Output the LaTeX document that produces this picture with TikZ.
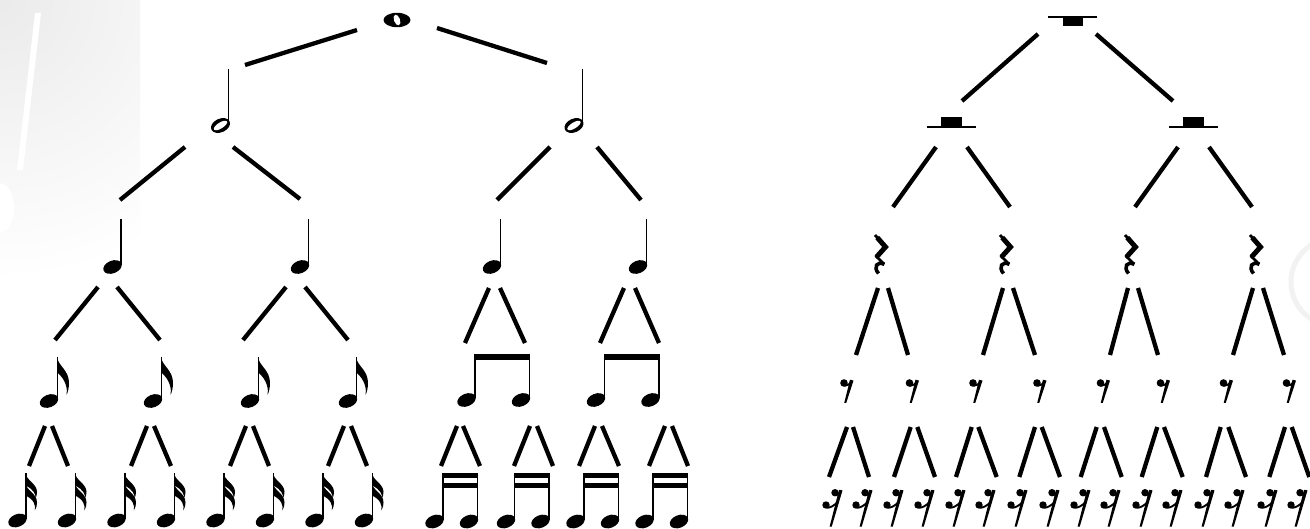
\documentclass[tikz,border=0pt]{standalone}
\tikzset{
  conn/.style={line width=4.3pt},
  stemln/.style={line width=1.35pt},
  ledger/.style={line width=1.6pt},
  hookln/.style={line width=1.9pt},
}
\newcommand\NHead[2]{\fill[shift={(#1,#2)},rotate=22] (0,0) ellipse [x radius=9.6, y radius=6.3];}
\tikzset{
  pics/wholenote/.style={code={
     \fill (0,0) ellipse [x radius=13.5, y radius=7.2];
     \fill[white,rotate=-70] (0,0) ellipse [x radius=5.6, y radius=3.0];}},
  pics/halfnote/.style={code={
     \fill[rotate=24] (0,0) ellipse [x radius=10, y radius=6.8];
     \fill[white,rotate=32] (0,0) ellipse [x radius=7.6, y radius=3.0];
     \draw[stemln] (8.2,-2) -- (8.2,-56);}},
  pics/quarternote/.style={code={
     \NHead{0}{0}
     \draw[stemln] (8.4,-2) -- (8.4,-48);}},
  pics/eighthnote/.style={code={
     \NHead{0}{0}
     \draw[stemln] (8.6,-2) -- (8.6,-44);
     \fill (8,-44) .. controls (9,-35) and (20.5,-31) .. (20,-17) .. controls (19.8,-13) and (19,-9) .. (17.5,-6) .. controls (18.5,-11) and (18,-20) .. (8,-29) -- cycle;}},
  pics/sixteenthnote/.style={code={
     \NHead{0}{0}
     \draw[stemln] (8.6,-2) -- (8.6,-47.5);
     \fill (8,-47.5) .. controls (9,-40) and (19,-37) .. (19.5,-29) .. controls (19.6,-26) and (19,-24) .. (17.8,-22) .. controls (18.5,-26) and (16.5,-31) .. (8,-35) -- cycle;
     \fill (8,-37) .. controls (9,-30) and (19.5,-27) .. (19.5,-18) .. controls (19.5,-15) and (19,-13) .. (17.3,-10) .. controls (18.5,-15) and (16.5,-21) .. (8,-25) -- cycle;}},
  pics/beameighths/.style={code={
     \NHead{0}{0}\NHead{54.5}{0}
     \draw[stemln] (8.4,-2) -- (8.4,-44) (62.9,-2) -- (62.9,-44);
     \fill (7.7,-46) rectangle (63.6,-40);}},
  pics/beamsixteenths/.style={code={
     \NHead{0}{0}\NHead{34.5}{0}
     \draw[stemln] (8.4,-2) -- (8.4,-46) (42.9,-2) -- (42.9,-46);
     \fill (7.7,-48.5) rectangle (43.6,-43.5);
     \fill (7.7,-38.5) rectangle (43.6,-33.5);}},
  pics/wholerest/.style={code={
     \draw[ledger] (-24.5,0) -- (24.5,0);
     \fill (-10,0) rectangle (10,9.5);}},
  pics/halfrest/.style={code={
     \draw[ledger] (-24.5,0) -- (24.5,0);
     \fill (-10.5,-10) rectangle (10.5,0);}},
  pics/quarterrest/.style={code={
     \draw[line width=2.8pt] (-5,-19) -- (-1.5,-15);
     \draw[line width=5pt, line join=miter] (-2.8,-16.5) -- (5.5,-7) -- (-3.5,3) ;
     \draw[line width=2.6pt] (-4.5,1.8) -- (4.2,10);
     \draw[line width=3.6pt] (4.4,10.4) .. controls (-3,6.5) and (-7,13) .. (-1.5,19.5);}},
  pics/eighthrest/.style={code={
     \fill (0,0) circle [radius=3.8];
     \draw[hookln] (0.5,2.8) .. controls (3.5,3.2) and (6,1) .. (7.8,-2.5);
     \fill (6,-3.3) -- (9.5,-2.4) -- (2.2,20) -- (0.2,20) -- cycle;}},
  pics/sixteenthrest/.style={code={
     \fill (0,0) circle [radius=3.7];
     \draw[hookln] (0.5,2.6) .. controls (3,3) and (5,1) .. (6.5,-2.5);
     \fill (-9,12.3) circle [radius=3.7];
     \draw[hookln] (-8.5,15) .. controls (-5,15.4) and (-1,13) .. (2.6,9.3);
     \fill (4,-2.9) -- (7.4,-2) -- (-3.3,34) -- (-5.4,34) -- cycle;}},
}
\begin{document}
\begin{tikzpicture}[x=1pt,y=-1pt]
\useasboundingbox (0,0) rectangle (1310,529);
\fill[white] (0,0) rectangle (1310,529);
% faint background watermark
\begin{scope}
  \clip (0,0) rectangle (140,330);
  \shade[inner color=black!8, outer color=white] (0,0) circle [radius=280];
\end{scope}
\fill[white] (35,13) -- (41,13) -- (23,170) -- (17,170) -- cycle;
\fill[white] (1,208) ellipse [x radius=13, y radius=24];
\begin{scope}
  \clip (1280,220) rectangle (1310,340);
  \draw[black!5, line width=5pt] (1335,282) circle [radius=44];
\end{scope}

% ---------- notes tree ----------
\pic (w) at (397,20) {wholenote};
\pic (h1) at (220.5,125.5) {halfnote};
\pic (h2) at (574,125.5) {halfnote};
\foreach \x in {112.5,300,492,638} \pic at (\x,267) {quarternote};
\foreach \x in {49,153,250,348} \pic at (\x,401) {eighthnote};
\foreach \x in {17.5,67,116.5,166,215.5,265,314.5,364} \pic at (\x,520.5) {sixteenthnote};
\foreach \x in {466.5,596} \pic at (\x,400) {beameighths};
\foreach \x in {434.5,506,575.5,644.5} \pic at (\x,521.5) {beamsixteenths};

\draw[conn] (245,65) -- (357,30);
\draw[conn] (437,28) -- (547,63);
\draw[conn] (185,147) -- (120,200);
\draw[conn] (233,147) -- (300,199);
\draw[conn] (550,147) -- (497,200);
\draw[conn] (597,147) -- (641,200);
\draw[conn] (98,287) -- (55,340);
\draw[conn] (117,287) -- (160,340);
\draw[conn] (286,287) -- (243,340);
\draw[conn] (305,287) -- (348,340);
\draw[conn] (489,288) -- (465,343);
\draw[conn] (500,288) -- (525,343);
\draw[conn] (624,288) -- (600,343);
\draw[conn] (635,288) -- (659,343);
\foreach \a/\b/\c/\d in {45/29/52/68,147/131/154/171,246/230/253/269,344/328/351/367,457/441/463/480,530/514/537/553,595/579/602/619,665/649/672/688}{
  \draw[conn] (\a,426) -- (\b,466);
  \draw[conn] (\c,426) -- (\d,466);
}

% ---------- rests tree ----------
\pic at (1072.5,17) {wholerest};
\pic at (951.5,127) {halfrest};
\pic at (1193.5,127) {halfrest};
\foreach \x in {880,1005,1130,1255} \pic at (\x,254) {quarterrest};
\foreach \x in {844,909.5,973,1037,1100.5,1160.5,1223.5,1286.5} \pic at (\x,383) {eighthrest};
\foreach \x in {835,865,896,927,958,988,1020,1052,1083,1113,1145,1175,1207,1237,1270,1300} \pic at (\x,492.7) {sixteenthrest};

\draw[conn] (1038,34) -- (962,101);
\draw[conn] (1096,34) -- (1173,101);
\draw[conn] (936,147) -- (893,207);
\draw[conn] (967,147) -- (1010,207);
\draw[conn] (1178,147) -- (1135,207);
\draw[conn] (1209,147) -- (1252,207);
\foreach \a/\b/\c/\d in {878/856/888/908,1003/983/1013/1035,1128/1110/1138/1158,1253/1233/1263/1284}{
  \draw[conn] (\a,288) -- (\b,355);
  \draw[conn] (\c,288) -- (\d,355);
}
\foreach \a/\b/\c/\d in {847/829/853/869,910.7/894/917.3/935,971.7/956/978.3/996.7,1035/1019.3/1041.7/1060,1096.7/1080.7/1104/1121.7,1157.3/1141.7/1164/1182.7,1220.7/1206/1228.3/1246,1285/1269.3/1291.7/1309.3}{
  \draw[conn] (\a,427) -- (\b,477);
  \draw[conn] (\c,427) -- (\d,477);
}
\end{tikzpicture}
\end{document}
